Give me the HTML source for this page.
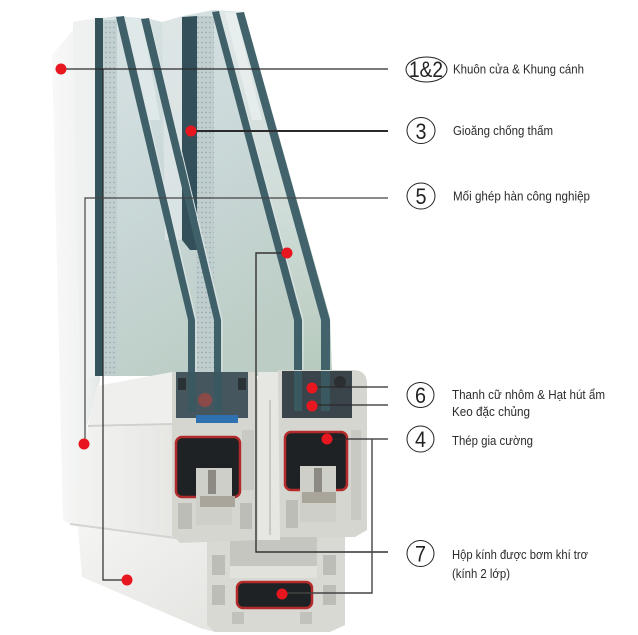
<!DOCTYPE html>
<html>
<head>
<meta charset="utf-8">
<style>
  html,body{margin:0;padding:0;background:#fff;}
  body{width:638px;height:635px;overflow:hidden;position:relative;}
  svg{position:absolute;left:0;top:0;}
  .lbl{font-family:"Liberation Sans","DejaVu Sans",sans-serif;font-size:12.5px;fill:#2b2b2b;}
  .num{font-family:"Liberation Sans","DejaVu Sans",sans-serif;font-size:22px;fill:#222;}
</style>
</head>
<body>
<svg width="638" height="635" viewBox="0 0 638 635" xmlns="http://www.w3.org/2000/svg">
  <defs>
    <linearGradient id="glass" x1="0" y1="0" x2="0.4" y2="1">
      <stop offset="0" stop-color="#d9e3e4"/>
      <stop offset="0.5" stop-color="#cad8d9"/>
      <stop offset="1" stop-color="#bccdc5"/>
    </linearGradient>
    <linearGradient id="glassR" x1="0" y1="0" x2="0" y2="1">
      <stop offset="0" stop-color="#dfe7e7"/>
      <stop offset="0.55" stop-color="#cfdcd8"/>
      <stop offset="1" stop-color="#b6cabc"/>
    </linearGradient>
    <linearGradient id="frameL" x1="0" y1="0" x2="1" y2="0">
      <stop offset="0" stop-color="#f8f8f8"/>
      <stop offset="0.6" stop-color="#f1f3f2"/>
      <stop offset="1" stop-color="#e3e8e7"/>
    </linearGradient>
    <linearGradient id="face" x1="0" y1="0" x2="1" y2="0">
      <stop offset="0" stop-color="#f4f4f3"/>
      <stop offset="1" stop-color="#e6e6e3"/>
    </linearGradient>
    <linearGradient id="faceLow" x1="0" y1="0" x2="1" y2="1">
      <stop offset="0" stop-color="#f5f5f4"/>
      <stop offset="1" stop-color="#e4e4e1"/>
    </linearGradient>
    <pattern id="dots" width="4" height="5" patternUnits="userSpaceOnUse">
      <rect width="4" height="5" fill="#bfcdce"/>
      <circle cx="2" cy="2.5" r="0.8" fill="#8ea0a4"/>
    </pattern>
  </defs>

  <!-- outer frame left -->
  <polygon points="52,55 73,30 97,20 100,380 88,423 68,523 63,520" fill="url(#frameL)"/>
  <polygon points="73,22 97,18 97,375 85,380 80,380 73,30" fill="#eef1f0"/>

  <!-- glass body -->
  <polygon points="97,19 117,16 150,19 162,22 183,16 213,10 244,12 330,318 332,376 97,376" fill="url(#glass)"/>
  <polygon points="213,11 244,12 330,318 332,376 294,376 294,320" fill="url(#glassR)"/>
  <polygon points="124,17 142,19 160,120 140,120" fill="#e4ecec" opacity="0.7"/>
  <polygon points="162,22 182,17 182,240 165,240" fill="#dfe6e6" opacity="0.8"/>
  <polygon points="225,12 236,13 262,120 252,120" fill="#eef3f3" opacity="0.6"/>

  <!-- left unit spacer -->
  <rect x="103" y="20" width="14" height="356" fill="url(#dots)" opacity="0.85"/>
  <rect x="95" y="18" width="8" height="358" fill="#35535b"/>
  <!-- right unit spacer -->
  <rect x="196" y="16" width="18" height="360" fill="url(#dots)" opacity="0.9"/>
  <polygon points="182,17 197,16 197,250 190,250 182,240" fill="#33505a"/>

  <!-- pane bands -->
  <polygon points="116,17 124,16 195,320 195,376 188,376 188,320" fill="#3f6069"/>
  <polygon points="141,19 149,18 221,320 221,376 214,376 214,320" fill="#3f6069"/>
  <polygon points="212,12 219,11 302,320 302,376 294,376 294,320" fill="#3f6069"/>
  <polygon points="236,13 244,12 330,320 330,376 321,376 321,320" fill="#42636b"/>
  <polyline points="125,18 196,320 196,376" fill="none" stroke="#dce6e6" stroke-width="1"/>
  <polyline points="150,20 222,320 222,376" fill="none" stroke="#dce6e6" stroke-width="1"/>
  <polyline points="220,13 303,320 303,376" fill="none" stroke="#dce6e6" stroke-width="1"/>

  <!-- left sash face (bead + rail) -->
  <polygon points="97,386 172,372 172,426 88,426" fill="#efefed"/>
  <line x1="88" y1="426" x2="172" y2="424" stroke="#cfd1cf" stroke-width="2"/>
  <polygon points="88,427 172,425 175,537 68,523 82,450" fill="url(#face)"/>
  <!-- lower frame face -->
  <polygon points="70,524 175,537 215,541 215,632 200,628 82,577 78,527" fill="url(#faceLow)"/>
  <line x1="70" y1="524" x2="176" y2="538" stroke="#d4d4d1" stroke-width="2"/>

  <!-- lower frame cross-section -->
  <polygon points="207,525 345,525 345,625 330,632 215,632 207,625" fill="#d9d9d3"/>
  <rect x="230" y="535" width="87" height="42" fill="#c6c6c0"/>
  <rect x="230" y="566" width="87" height="12" fill="#e2e2dd"/>
  <rect x="237" y="582" width="75" height="26" rx="6" fill="#1f2224" stroke="#b32b2b" stroke-width="2.5"/>
  <rect x="212" y="555" width="13" height="20" fill="#bdbdb7"/>
  <rect x="212" y="585" width="13" height="20" fill="#bdbdb7"/>
  <rect x="323" y="555" width="13" height="20" fill="#bdbdb7"/>
  <rect x="323" y="585" width="13" height="20" fill="#bdbdb7"/>
  <rect x="232" y="612" width="12" height="12" fill="#c2c2bc"/>
  <rect x="300" y="612" width="12" height="12" fill="#c2c2bc"/>

  <!-- left sash cross-section -->
  <polygon points="172,372 255,372 258,380 258,540 180,543 172,535" fill="#d6d6d0"/>
  <rect x="176" y="372" width="72" height="46" fill="#46565e"/>
  <rect x="188" y="372" width="8" height="40" fill="#3a5860"/>
  <rect x="214" y="372" width="8" height="40" fill="#3a5860"/>
  <rect x="178" y="378" width="8" height="12" fill="#2a3236"/>
  <rect x="238" y="378" width="8" height="12" fill="#2a3236"/>
  <circle cx="205" cy="400" r="7" fill="#8a4a48"/>
  <rect x="196" y="415" width="42" height="8" fill="#2f70b0"/>
  <rect x="176" y="437" width="64" height="60" rx="6" fill="#1f2224" stroke="#b02b2b" stroke-width="2.5"/>
  <polygon points="196,468 232,468 232,525 196,525" fill="#cfcfc9"/>
  <rect x="208" y="470" width="8" height="24" fill="#8c8a82"/>
  <rect x="200" y="496" width="35" height="11" fill="#a9a59a"/>
  <rect x="178" y="503" width="14" height="26" fill="#bdbdb7"/>
  <rect x="240" y="503" width="12" height="26" fill="#bdbdb7"/>
  <rect x="242" y="430" width="12" height="60" fill="#c9c9c3"/>

  <!-- gap between sashes -->
  <rect x="258" y="372" width="22" height="168" fill="#e6e6e2"/>
  <line x1="270" y1="400" x2="270" y2="535" stroke="#c9c9c4" stroke-width="2"/>

  <!-- right sash cross-section -->
  <path d="M278,370 L353,370 Q367,370 367,384 L367,530 L355,537 L280,537 Z" fill="#d6d6d0"/>
  <rect x="282" y="371" width="70" height="47" fill="#3a454b"/>
  <rect x="294" y="371" width="8" height="40" fill="#3a5860"/>
  <rect x="321" y="371" width="9" height="40" fill="#3a5860"/>
  <circle cx="340" cy="382" r="6" fill="#2b2f31"/>
  <rect x="285" y="432" width="62" height="58" rx="6" fill="#1f2224" stroke="#b52b2b" stroke-width="2.5"/>
  <polygon points="300,466 336,466 336,522 300,522" fill="#cfcfc9"/>
  <rect x="314" y="468" width="8" height="24" fill="#8c8a82"/>
  <rect x="302" y="492" width="34" height="11" fill="#a9a59a"/>
  <rect x="351" y="430" width="10" height="90" fill="#c9c9c3"/>
  <rect x="286" y="500" width="12" height="28" fill="#bdbdb7"/>

  <!-- leader lines -->
  <g fill="none" stroke="#2a2a2a">
    <line x1="61" y1="69" x2="388" y2="69" stroke-width="1.2"/>
    <polyline points="103,69 103,580 125,580" stroke-width="1.2"/>
    <line x1="191" y1="131" x2="388" y2="131" stroke-width="2"/>
    <polyline points="388,198 85,198 85,444" stroke-width="1.2" stroke="#444"/>
    <polyline points="287,253 256,253 256,552 388,552" stroke-width="1.4" stroke="#333"/>
    <line x1="311" y1="387" x2="388" y2="387" stroke-width="1.2"/>
    <line x1="312" y1="405" x2="388" y2="405" stroke-width="1.2"/>
    <line x1="327" y1="439" x2="388" y2="439" stroke-width="1.2"/>
    <polyline points="372,439 372,593 282,593" stroke-width="1.4" stroke="#444"/>
  </g>

  <!-- red dots -->
  <g fill="#e8161f">
    <circle cx="61" cy="69" r="5.5"/>
    <circle cx="191" cy="131" r="5.5"/>
    <circle cx="84" cy="444" r="5.5"/>
    <circle cx="287" cy="253" r="5.5"/>
    <circle cx="312" cy="388" r="5.5"/>
    <circle cx="312" cy="406" r="5.5"/>
    <circle cx="327" cy="439" r="5.5"/>
    <circle cx="127" cy="580" r="5.5"/>
    <circle cx="282" cy="594" r="5.5"/>
  </g>

  <!-- number badges -->
  <g fill="#fff" stroke="#222" stroke-width="1">
    <ellipse cx="426.5" cy="69.5" rx="20.5" ry="12.5"/>
    <ellipse cx="421" cy="130.5" rx="14" ry="13"/>
    <ellipse cx="421" cy="196" rx="14" ry="13"/>
    <ellipse cx="420.5" cy="395" rx="13.5" ry="12.5"/>
    <ellipse cx="420.5" cy="439" rx="13.5" ry="13"/>
    <ellipse cx="420.5" cy="553.5" rx="13.5" ry="13"/>
  </g>
  <text class="num" x="409" y="77" font-size="18" textLength="34" lengthAdjust="spacingAndGlyphs">1&amp;2</text>
  <text class="num" x="415.5" y="139" textLength="11" lengthAdjust="spacingAndGlyphs">3</text>
  <text class="num" x="415.5" y="204" textLength="11" lengthAdjust="spacingAndGlyphs">5</text>
  <text class="num" x="415" y="403" textLength="11" lengthAdjust="spacingAndGlyphs">6</text>
  <text class="num" x="415" y="447" textLength="11" lengthAdjust="spacingAndGlyphs">4</text>
  <text class="num" x="415" y="561.5" textLength="11" lengthAdjust="spacingAndGlyphs">7</text>

  <!-- labels -->
  <text class="lbl" x="453" y="73.5" textLength="131" lengthAdjust="spacingAndGlyphs">Khuôn cửa &amp; Khung cánh</text>
  <text class="lbl" x="453" y="135" textLength="100" lengthAdjust="spacingAndGlyphs">Gioăng chống thấm</text>
  <text class="lbl" x="453" y="200.5" textLength="137" lengthAdjust="spacingAndGlyphs">Mối ghép hàn công nghiệp</text>
  <text class="lbl" x="452" y="399" textLength="153" lengthAdjust="spacingAndGlyphs">Thanh cữ nhôm &amp; Hạt hút ẩm</text>
  <text class="lbl" x="452" y="416" textLength="78" lengthAdjust="spacingAndGlyphs">Keo đặc chủng</text>
  <text class="lbl" x="452" y="445" textLength="81" lengthAdjust="spacingAndGlyphs">Thép gia cường</text>
  <text class="lbl" x="452" y="559" textLength="136" lengthAdjust="spacingAndGlyphs">Hộp kính được bơm khí trơ</text>
  <text class="lbl" x="452" y="578" textLength="58" lengthAdjust="spacingAndGlyphs">(kính 2 lớp)</text>
</svg>
</body>
</html>
